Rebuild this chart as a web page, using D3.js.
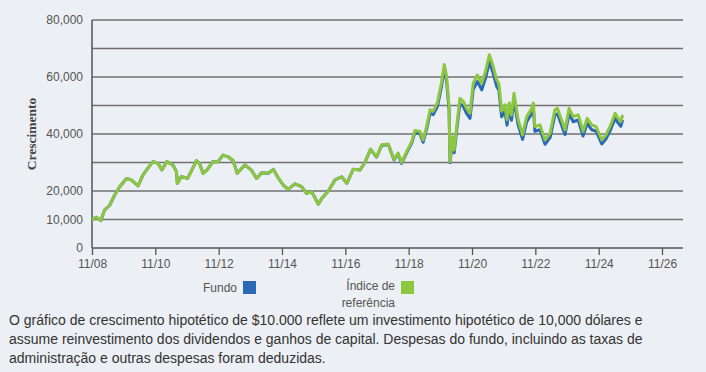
<!DOCTYPE html>
<html>
<head>
<meta charset="utf-8">
<script src="https://cdn.jsdelivr.net/npm/d3@7"></script>
<style>
	html, body { margin: 0; padding: 0; background: #eceff3; }
	svg { display: block; }
</style>
</head>
<body>
<svg id="chart" width="706" height="372"></svg>
<script>
// datas em anos decimais
var anos = [
	2008.83, 2008.97, 2009.11, 2009.23, 2009.39, 2009.55, 2009.71, 2009.92, 2010.07, 2010.29,
	2010.44, 2010.60, 2010.76, 2010.92, 2011.04, 2011.20, 2011.39, 2011.50, 2011.53, 2011.65,
	2011.86, 2012.13, 2012.23, 2012.34, 2012.47, 2012.65, 2012.81, 2012.97, 2013.13, 2013.29,
	2013.42, 2013.66, 2013.86, 2014.03, 2014.19, 2014.40, 2014.56, 2014.72, 2014.87, 2015.03,
	2015.24, 2015.45, 2015.61, 2015.77, 2015.98, 2016.09, 2016.30, 2016.51, 2016.72, 2016.88,
	2017.08, 2017.30, 2017.45, 2017.63, 2017.82, 2017.98, 2018.19, 2018.37, 2018.50, 2018.61,
	2018.77, 2018.93, 2019.03, 2019.19, 2019.29, 2019.40, 2019.51, 2019.61, 2019.74, 2019.87,
	2019.96, 2020.03, 2020.11, 2020.14, 2020.22, 2020.27, 2020.35, 2020.45, 2020.56, 2020.66,
	2020.77, 2020.87, 2021.00, 2021.14, 2021.26, 2021.38, 2021.49, 2021.61, 2021.68, 2021.77,
	2021.87, 2021.94, 2022.01, 2022.08, 2022.16, 2022.24, 2022.29, 2022.43, 2022.56, 2022.72,
	2022.77, 2022.82, 2022.98, 2023.14, 2023.30, 2023.45, 2023.53, 2023.66, 2023.77, 2023.90,
	2024.03, 2024.19, 2024.34, 2024.47, 2024.61, 2024.75, 2024.93, 2025.06, 2025.19, 2025.35,
	2025.45, 2025.53, 2025.59
];
// Índice de referência (verde)
var indice = [
	10000, 10800, 9600, 13300, 15000, 18600, 21500, 24400, 23900, 21800,
	25600, 28000, 30300, 29700, 27400, 30300, 29100, 26800, 22700, 25000,
	24500, 30600, 29700, 26200, 27400, 30300, 30300, 32600, 32000, 30600,
	26200, 29100, 27400, 24400, 26400, 26200, 27600, 24500, 22100, 20600,
	22500, 21500, 19200, 19800, 15400, 17400, 20100, 23900, 25000, 22700,
	27600, 27400, 30000, 34700, 32000, 36200, 36500, 31100, 33300, 30000,
	33800, 37300, 41200, 40900, 37900, 42600, 48500, 48000, 50900, 58000,
	64400, 60300, 49700, 30300, 39000, 34400, 42600, 52500, 51400, 49000,
	47300, 57800, 60700, 57800, 62000, 67800, 64200, 59000, 57800, 48000,
	50200, 45000, 50900, 46700, 54300, 48500, 45000, 39700, 46100, 49000,
	50900, 42600, 43200, 37900, 40300, 48500, 49000, 45000, 41400, 49000,
	46100, 46700, 40900, 45500, 43200, 42600, 37900, 39700, 42600, 47300,
	45500, 44400, 46700
];
// Fundo (azul)
var fundo = [
	10000, 10800, 9600, 13300, 15000, 18600, 21500, 24400, 23900, 21800,
	25600, 28000, 30300, 29700, 27400, 30300, 29100, 26800, 22700, 25000,
	24500, 30600, 29700, 26200, 27400, 30300, 30300, 32600, 32000, 30600,
	26200, 29100, 27400, 24400, 26400, 26200, 27600, 24500, 22100, 20600,
	22500, 21500, 19200, 19800, 15400, 17400, 20100, 23900, 25000, 22700,
	27600, 27400, 30000, 34600, 31900, 36000, 36300, 30900, 33000, 29700,
	33400, 36800, 40500, 40100, 37100, 41700, 47300, 46800, 49600, 56500,
	62800, 58700, 48300, 29900, 37800, 33400, 41300, 50700, 49600, 47200,
	45500, 55600, 58400, 55500, 59600, 65300, 61700, 56700, 55500, 46000,
	48100, 43100, 48800, 44800, 52100, 46500, 43200, 38100, 44300, 47100,
	48900, 40900, 41500, 36400, 38700, 46600, 47100, 43200, 39800, 47100,
	44300, 44900, 39300, 43700, 41500, 41000, 36500, 38200, 41000, 45500,
	43800, 42700, 44900
];
var ticksX = [2008, 2010, 2012, 2014, 2016, 2018, 2020, 2022, 2024, 2026];
var rotulosX = ["11/08", "11/10", "11/12", "11/14", "11/16", "11/18", "11/20", "11/22", "11/24", "11/26"];
var rotulosY = [0, 10000, 20000, 40000, 60000, 80000];
var grade = [10000, 20000, 30000, 40000, 50000, 60000, 70000, 80000];
var legenda = [
	{ nome: ["Fundo"], cor: "#2b68b5" },
	{ nome: ["Índice de", "referência"], cor: "#8dc63f" }
];
var nota = [
	"O gráfico de crescimento hipotético de $10.000 reflete um investimento hipotético de 10,000 dólares e",
	"assume reinvestimento dos dividendos e ganhos de capital. Despesas do fundo, incluindo as taxas de",
	"administração e outras despesas foram deduzidas."
];

function anoParaData(a) {
	var ano = Math.floor(a);
	var ini = Date.UTC(ano, 0, 1), fim = Date.UTC(ano + 1, 0, 1);
	return new Date(ini + (a - ano) * (fim - ini));
}

var svg = d3.select("#chart");
var mLeft = 92, mRight = 683, mTop = 20, mBottom = 248;
var fonte = "'Liberation Sans', Arial, sans-serif";

var x = d3.scaleUtc()
	.domain([new Date(Date.UTC(2008, 10, 1)), new Date(Date.UTC(2026, 10, 1))])
	.range([mLeft, 662]);
var y = d3.scaleLinear().domain([0, 80000]).range([mBottom, mTop]);

// grade horizontal
svg.append("g").selectAll("line").data(grade).enter().append("line")
	.attr("x1", mLeft).attr("x2", mRight)
	.attr("y1", d => y(d)).attr("y2", d => y(d))
	.attr("stroke", "#707070").attr("stroke-width", 1.3);

// eixo Y
var gy = svg.append("g").attr("transform", "translate(" + mLeft + ",0)")
	.call(d3.axisLeft(y).tickValues(rotulosY).tickSize(0).tickPadding(9).tickFormat(d3.format(",")));
gy.select(".domain").remove();
gy.selectAll("text").attr("fill", "#555").style("font-family", fonte).style("font-size", "12px");
svg.append("line").attr("x1", mLeft).attr("x2", mLeft).attr("y1", mTop).attr("y2", mBottom)
	.attr("stroke", "#555").attr("stroke-width", 1.5);

// eixo X
var gx = svg.append("g").attr("transform", "translate(0," + mBottom + ")")
	.call(d3.axisBottom(x)
		.tickValues(ticksX.map(a => new Date(Date.UTC(a, 10, 1))))
		.tickFormat((d, i) => rotulosX[i])
		.tickSize(7).tickPadding(4));
gx.select(".domain").remove();
gx.selectAll("line").attr("stroke", "#555").attr("stroke-width", 1.3);
gx.selectAll("text").attr("fill", "#555").style("font-family", fonte).style("font-size", "12px");
svg.append("line").attr("x1", mLeft).attr("x2", mRight).attr("y1", mBottom).attr("y2", mBottom)
	.attr("stroke", "#555").attr("stroke-width", 1.5);

// título do eixo Y
svg.append("text")
	.attr("transform", "translate(36," + ((mTop + mBottom) / 2) + ") rotate(-90)")
	.attr("text-anchor", "middle")
	.style("font-family", "'Liberation Serif', 'DejaVu Serif', serif")
	.style("font-weight", "bold").style("font-size", "13.5px")
	.attr("fill", "#444")
	.text("Crescimento");

// linhas
var linha = d3.line()
	.x((d, i) => x(anoParaData(anos[i])))
	.y(d => y(d));
svg.append("path").datum(fundo)
	.attr("fill", "none").attr("stroke", legenda[0].cor).attr("stroke-width", 3)
	.attr("stroke-linejoin", "round").attr("d", linha);
svg.append("path").datum(indice)
	.attr("fill", "none").attr("stroke", legenda[1].cor).attr("stroke-width", 3)
	.attr("stroke-linejoin", "round").attr("d", linha);

// legenda
var legX = [237, 395];
legenda.forEach(function(l, i) {
	var g = svg.append("g");
	g.selectAll("text").data(l.nome).enter().append("text")
		.attr("x", legX[i]).attr("y", (d, j) => (l.nome.length > 1 ? 290 : 292) + j * 16.5)
		.attr("text-anchor", "end")
		.style("font-family", fonte).style("font-size", "12px")
		.attr("fill", "#555")
		.text(d => d);
	g.append("rect")
		.attr("x", legX[i] + 6).attr("y", 281)
		.attr("width", 13).attr("height", 13)
		.attr("fill", l.cor);
});

// nota de rodapé
svg.append("g").selectAll("text").data(nota).enter().append("text")
	.attr("x", 9).attr("y", (d, i) => 325 + i * 19)
	.style("font-family", fonte)
	.style("font-size", "14px")
	.attr("fill", "#333")
	.text(d => d);
</script>
</body>
</html>
